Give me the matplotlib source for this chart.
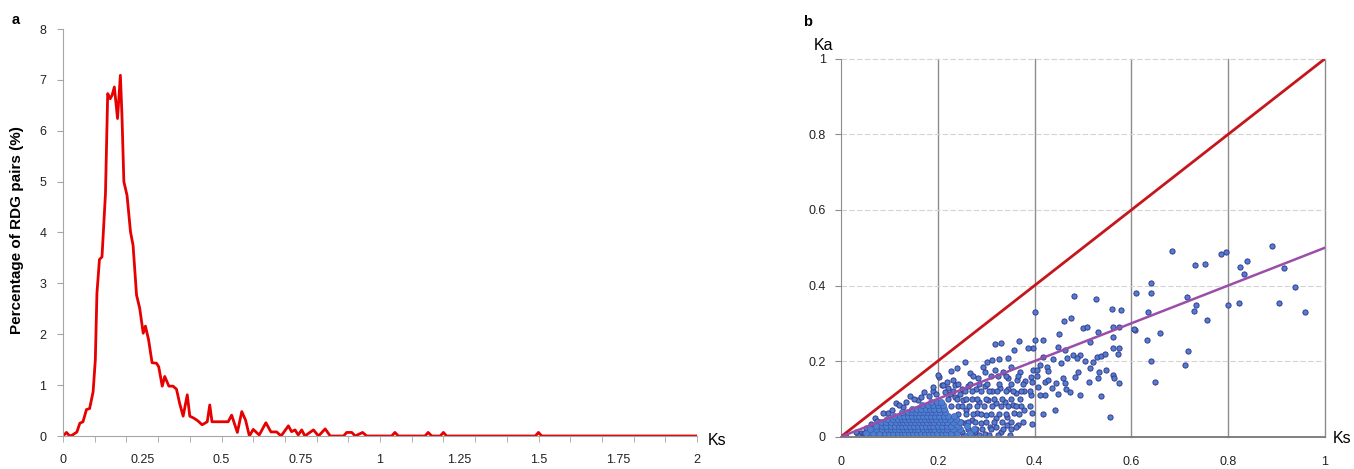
import numpy as np
import matplotlib.pyplot as plt
from matplotlib.ticker import FixedLocator, NullFormatter

plt.rcParams['font.family'] = ['Liberation Sans', 'DejaVu Sans']

# ---- panel a: distribution of Ks (percentage of RDG pairs) ----
dist_pts = [
    (0, 0), (0.011, 0.07), (0.021, 0), (0.03, 0.02), (0.044, 0.08), (0.053, 0.25),
    (0.063, 0.28), (0.074, 0.52), (0.084, 0.54), (0.095, 0.87), (0.102, 1.5),
    (0.107, 2.8), (0.115, 3.47), (0.123, 3.52), (0.134, 4.77), (0.141, 6.73),
    (0.149, 6.63), (0.155, 6.7), (0.162, 6.86), (0.172, 6.24), (0.181, 7.09),
    (0.186, 6.3), (0.192, 5.0), (0.202, 4.73), (0.213, 4.01), (0.221, 3.75),
    (0.232, 2.77), (0.242, 2.51), (0.253, 2.02), (0.26, 2.16), (0.27, 1.89),
    (0.281, 1.44), (0.295, 1.43), (0.302, 1.36), (0.313, 0.98), (0.321, 1.17),
    (0.334, 0.98), (0.347, 0.98), (0.358, 0.92), (0.368, 0.64), (0.379, 0.39),
    (0.392, 0.81), (0.4, 0.39), (0.413, 0.35), (0.425, 0.3), (0.439, 0.22),
    (0.455, 0.28), (0.463, 0.61), (0.47, 0.28), (0.521, 0.28), (0.532, 0.41),
    (0.55, 0.07), (0.564, 0.48), (0.576, 0.31), (0.588, 0), (0.6, 0.13),
    (0.619, 0.02), (0.64, 0.26), (0.656, 0.08), (0.674, 0.08), (0.688, 0),
    (0.711, 0.2), (0.721, 0.085), (0.732, 0.12), (0.742, 0.02), (0.753, 0.12),
    (0.763, 0), (0.79, 0.12), (0.806, 0), (0.827, 0.14), (0.843, 0), (0.885, 0),
    (0.895, 0.07), (0.911, 0.07), (0.922, 0), (0.945, 0.07), (0.958, 0),
    (1.037, 0), (1.047, 0.07), (1.058, 0), (1.142, 0), (1.152, 0.07), (1.163, 0),
    (1.19, 0), (1.2, 0.07), (1.21, 0), (1.49, 0), (1.5, 0.07), (1.51, 0), (2.0, 0),
]
ks_a = [p[0] for p in dist_pts]
pct_a = [p[1] for p in dist_pts]
xlabels_a = ['0', '0.25', '0.5', '0.75', '1', '1.25', '1.5', '1.75', '2']

# ---- panel b: Ka vs Ks scatter ----
spread_pts = [
    (0.482, 0.373), (0.527, 0.365), (0.400, 0.331), (0.461, 0.307), (0.476, 0.315),
    (0.560, 0.339), (0.579, 0.335), (0.499, 0.288), (0.509, 0.291), (0.532, 0.276),
    (0.561, 0.291), (0.575, 0.291), (0.451, 0.273), (0.401, 0.256), (0.418, 0.256),
    (0.610, 0.381), (0.607, 0.282), (0.397, 0.234), (0.449, 0.238), (0.463, 0.229),
    (0.480, 0.216), (0.494, 0.216), (0.514, 0.251), (0.528, 0.212), (0.563, 0.234),
    (0.575, 0.235), (0.573, 0.218), (0.563, 0.263), (0.418, 0.210), (0.437, 0.205),
    (0.454, 0.196), (0.467, 0.207), (0.488, 0.207), (0.504, 0.200), (0.521, 0.198),
    (0.538, 0.213), (0.545, 0.220), (0.411, 0.190), (0.425, 0.185), (0.428, 0.175),
    (0.397, 0.177), (0.393, 0.159), (0.404, 0.161), (0.395, 0.146), (0.407, 0.131),
    (0.421, 0.146), (0.428, 0.150), (0.435, 0.130), (0.445, 0.143), (0.459, 0.154),
    (0.463, 0.141), (0.465, 0.125), (0.473, 0.119), (0.483, 0.159), (0.490, 0.170),
    (0.513, 0.146), (0.514, 0.181), (0.531, 0.155), (0.534, 0.170), (0.547, 0.177),
    (0.562, 0.164), (0.575, 0.141), (0.537, 0.108), (0.493, 0.111), (0.449, 0.113),
    (0.421, 0.111), (0.411, 0.109), (0.443, 0.071), (0.418, 0.059), (0.395, 0.062),
    (0.395, 0.034), (0.555, 0.052), (0.365, 0.030), (0.564, 0.156),
    (0.684, 0.492), (0.731, 0.455), (0.753, 0.458), (0.785, 0.484), (0.795, 0.489),
    (0.890, 0.505), (0.824, 0.450), (0.839, 0.466), (0.833, 0.431), (0.915, 0.447),
    (0.939, 0.397), (0.959, 0.331), (0.905, 0.355), (0.822, 0.355), (0.800, 0.349),
    (0.715, 0.370), (0.734, 0.349), (0.729, 0.333), (0.756, 0.310), (0.717, 0.228),
    (0.711, 0.189), (0.641, 0.406), (0.641, 0.380), (0.635, 0.330), (0.606, 0.284),
    (0.633, 0.255), (0.660, 0.275), (0.641, 0.201), (0.649, 0.144),
    (0.318, 0.244), (0.331, 0.247), (0.368, 0.254), (0.358, 0.229), (0.386, 0.234),
    (0.256, 0.197), (0.227, 0.174), (0.240, 0.183), (0.203, 0.159), (0.301, 0.198),
    (0.311, 0.203), (0.327, 0.205), (0.346, 0.207), (0.293, 0.185), (0.297, 0.172),
    (0.267, 0.168), (0.284, 0.154), (0.318, 0.176), (0.335, 0.172), (0.352, 0.185),
    (0.369, 0.172), (0.325, 0.160), (0.346, 0.156), (0.363, 0.151), (0.380, 0.147),
    (0.404, 0.176), (0.208, 0.137), (0.222, 0.128), (0.235, 0.137), (0.249, 0.125),
    (0.263, 0.134), (0.279, 0.125), (0.297, 0.134), (0.311, 0.122), (0.328, 0.128),
    (0.345, 0.125), (0.362, 0.116), (0.379, 0.122), (0.393, 0.109), (0.235, 0.106),
    (0.252, 0.097), (0.270, 0.100), (0.286, 0.093), (0.304, 0.097), (0.321, 0.088),
    (0.338, 0.093), (0.355, 0.084), (0.372, 0.080), (0.379, 0.071), (0.358, 0.062),
    (0.342, 0.053), (0.321, 0.049), (0.300, 0.058), (0.280, 0.062), (0.259, 0.071),
    (0.242, 0.080), (0.270, 0.044), (0.290, 0.035), (0.307, 0.026), (0.321, 0.026),
    (0.342, 0.031), (0.362, 0.026), (0.256, 0.035), (0.249, 0.013), (0.276, 0.013),
    (0.252, 0.001), (0.298, 0.008), (0.330, 0.012),
    (0.114, 0.090), (0.142, 0.108), (0.171, 0.119), (0.181, 0.108), (0.159, 0.098),
    (0.128, 0.079), (0.097, 0.062), (0.087, 0.064), (0.070, 0.049), (0.052, 0.023),
    (0.042, 0.009), (0.200, 0.163), (0.211, 0.137), (0.010, 0.000),
    (0.062, 0.033), (0.075, 0.041), (0.105, 0.070), (0.120, 0.083), (0.135, 0.092),
    (0.150, 0.101), (0.165, 0.106), (0.190, 0.121), (0.197, 0.112), (0.215, 0.119),
    (0.226, 0.112), (0.245, 0.112), (0.232, 0.150), (0.219, 0.146), (0.191, 0.131),
    (0.035, 0.004), (0.048, 0.011), (0.058, 0.000), (0.030, 0.013),
]

# semi-dense band right of the core: (Ka level, list of Ks values)
band_rows = [
    (0.005, [0.27, 0.285, 0.305, 0.325, 0.35]),
    (0.020, [0.262, 0.278, 0.292, 0.31, 0.335, 0.352]),
    (0.040, [0.248, 0.262, 0.277, 0.3, 0.316, 0.332, 0.352, 0.376]),
    (0.060, [0.242, 0.258, 0.272, 0.289, 0.31, 0.326, 0.341, 0.368]),
    (0.080, [0.228, 0.25, 0.265, 0.281, 0.296, 0.311, 0.33, 0.346, 0.362, 0.39]),
    (0.100, [0.222, 0.24, 0.258, 0.28, 0.299, 0.316, 0.332, 0.351, 0.37]),
    (0.120, [0.232, 0.256, 0.271, 0.29, 0.305, 0.322, 0.34, 0.356, 0.372, 0.39]),
    (0.140, [0.242, 0.266, 0.286, 0.302, 0.326, 0.351, 0.376]),
    (0.160, [0.272, 0.31, 0.341, 0.366]),
]

# dense core near the origin: (Ka level, list of Ks values)
core_rows = [
    (0.002, [0.062, 0.075, 0.088, 0.097, 0.106, 0.114, 0.122, 0.13, 0.138, 0.146, 0.154,
             0.162, 0.171, 0.179, 0.187, 0.196, 0.205, 0.214, 0.224, 0.236, 0.258]),
    (0.011, [0.052, 0.066, 0.079, 0.091, 0.1, 0.108, 0.117, 0.125, 0.133, 0.141, 0.149,
             0.157, 0.166, 0.174, 0.182, 0.19, 0.199, 0.208, 0.217, 0.227, 0.24, 0.266]),
    (0.020, [0.06, 0.073, 0.085, 0.096, 0.104, 0.112, 0.12, 0.128, 0.136, 0.144, 0.152,
             0.16, 0.169, 0.177, 0.185, 0.193, 0.202, 0.211, 0.22, 0.231, 0.246, 0.275]),
    (0.029, [0.072, 0.084, 0.094, 0.103, 0.111, 0.119, 0.127, 0.135, 0.143, 0.151, 0.159,
             0.167, 0.175, 0.183, 0.191, 0.2, 0.209, 0.218, 0.228, 0.241, 0.26]),
    (0.038, [0.082, 0.094, 0.104, 0.113, 0.121, 0.129, 0.137, 0.145, 0.153, 0.161, 0.169,
             0.177, 0.185, 0.193, 0.202, 0.211, 0.22, 0.231, 0.245]),
    (0.047, [0.096, 0.108, 0.117, 0.125, 0.133, 0.141, 0.149, 0.157, 0.165, 0.173, 0.181,
             0.189, 0.197, 0.206, 0.215, 0.225, 0.238]),
    (0.056, [0.11, 0.121, 0.13, 0.138, 0.146, 0.154, 0.162, 0.17, 0.178, 0.186, 0.194,
             0.203, 0.212, 0.222, 0.233]),
    (0.065, [0.127, 0.138, 0.147, 0.155, 0.163, 0.171, 0.179, 0.187, 0.196, 0.205, 0.215]),
    (0.074, [0.146, 0.157, 0.166, 0.175, 0.184, 0.193, 0.202, 0.212]),
    (0.083, [0.168, 0.18, 0.19, 0.2, 0.21]),
    (0.092, [0.186, 0.198, 0.207]),
]

ref_x = [0, 1]
ref_y = [0, 1]       # Ka = Ks
fit_x = [0, 1]
fit_y = [0, 0.5]     # regression line
ticks_b = [0, 0.2, 0.4, 0.6, 0.8, 1]
ticklabels_b = ['0', '0.2', '0.4', '0.6', '0.8', '1']

band_ks = [x for y, xs in band_rows for x in xs]
band_ka = [y for y, xs in band_rows for x in xs]
core_ks = [x for y, xs in core_rows for x in xs]
core_ka = [y for y, xs in core_rows for x in xs]
ks_b = np.array([p[0] for p in spread_pts] + band_ks)
ka_b = np.array([p[1] for p in spread_pts] + band_ka)

W, H = 1354, 469
fig = plt.figure(figsize=(W / 100, H / 100), dpi=100)

# ---------- panel a ----------
ax1 = fig.add_axes([63 / W, 33 / H, 634 / W, 407 / H])
ax1.plot(ks_a, pct_a, color='#e60000', lw=2.0, solid_joinstyle='round')
ax1.set_xlim(0, 2)
ax1.set_ylim(0, 8)
for s in ['top', 'right']:
    ax1.spines[s].set_visible(False)
for s in ['left', 'bottom']:
    ax1.spines[s].set_color('#a6a6a6')
ax1.xaxis.remove_overlapping_locs = False
ax1.xaxis.set_major_locator(FixedLocator(np.arange(0, 2.01, 0.25)))
ax1.set_xticklabels(xlabels_a)
ax1.xaxis.set_minor_locator(FixedLocator(np.arange(0, 2.01, 0.1)))
ax1.xaxis.set_minor_formatter(NullFormatter())
ax1.tick_params(axis='x', which='minor', length=4, color='#a6a6a6', direction='out')
ax1.tick_params(axis='x', which='major', length=0, pad=13, labelsize=9, labelcolor='#222222')
ax1.set_yticks(range(0, 9))
ax1.tick_params(axis='y', length=4, color='#a6a6a6', pad=8, labelsize=9, labelcolor='#222222')
fig.text(17 / W, 1 - 230 / H, 'Percentage of RDG pairs (%)', rotation=90, ha='center',
         va='center', fontsize=11, fontweight='bold')
fig.text(12 / W, 1 - 20 / H, 'a', fontsize=10.5, fontweight='bold', va='center')
fig.text(708 / W, 1 - 440 / H, 'Ks', fontsize=11.5, va='center')

# ---------- panel b ----------
ax2 = fig.add_axes([841 / W, (H - 436.7) / H, 484 / W, 378 / H])
ax2.set_xlim(0, 1)
ax2.set_ylim(0, 1)
for xv in ticks_b[1:]:
    ax2.axvline(xv, color='#8c8c8c', lw=1.0, zorder=1, clip_on=False)
for yv in ticks_b[1:]:
    ax2.axhline(yv, color='#d4d4d4', lw=0.8, ls=(0, (5, 2)), zorder=1, clip_on=False)
ax2.scatter(ks_b, ka_b, s=14, facecolor='#4f7fcf', edgecolor='#38398f', linewidths=0.7,
            zorder=2)
ax2.scatter(core_ks, core_ka, s=20, facecolor='#4a80d2', edgecolor='#3f4ea5', linewidths=0.4,
            zorder=2)
ax2.plot(ref_x, ref_y, color='#c4161c', lw=2.0, zorder=3)
ax2.plot(fit_x, fit_y, color='#9b4ea8', lw=1.8, zorder=3)
ax2.spines['top'].set_visible(False)
ax2.spines['right'].set_visible(False)
ax2.spines['left'].set_color('#8c8c8c')
ax2.spines['bottom'].set_color('#7f7f7f')
ax2.spines['bottom'].set_linewidth(1.4)
ax2.set_xticks(ticks_b)
ax2.set_xticklabels(ticklabels_b)
ax2.set_yticks(ticks_b)
ax2.set_yticklabels(ticklabels_b)
ax2.tick_params(axis='x', length=0, pad=14, labelsize=9, labelcolor='#222222')
ax2.tick_params(axis='y', length=4, color='#8c8c8c', pad=7, labelsize=9, labelcolor='#222222')
fig.text(803 / W, 1 - 22 / H, 'b', fontsize=10.5, fontweight='bold', va='center')
fig.text(814 / W, 1 - 45 / H, 'Ka', fontsize=11.5, va='center')
fig.text(1333 / W, 1 - 438 / H, 'Ks', fontsize=11.5, va='center')

fig.savefig('out.png', dpi=100)
